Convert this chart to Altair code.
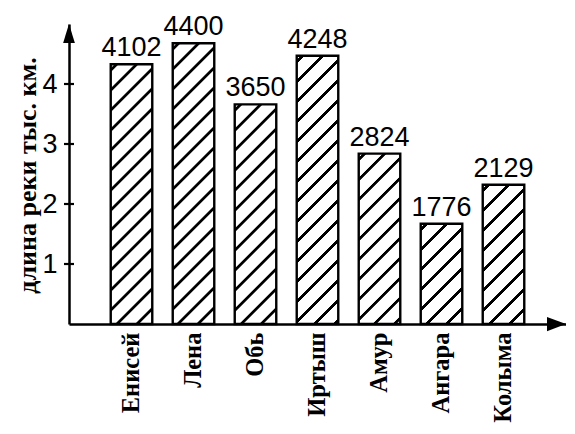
import altair as alt
import pandas as pd

# ---- data ----
rivers = ["Енисей", "Лена", "Обь", "Иртыш", "Амур", "Ангара", "Колыма"]
lengths_km = [4102, 4400, 3650, 4248, 2824, 1776, 2129]          # printed labels
bar_heights = [4.33, 4.68, 3.66, 4.47, 2.84, 1.67, 2.32]          # drawn bar heights (тыс. км)
y_ticks = [1, 2, 3, 4]
y_title = "длина реки тыс. км."

df = pd.DataFrame({"river": rivers, "h": bar_heights, "label": [str(v) for v in lengths_km]})

# ---- layout ----
W, H = 497, 300
Y_MAX = 5
STEP = 62.0
P_INNER = 0.33
P_OUTER = (W / STEP - (len(rivers) - P_INNER)) / 2
BAND = STEP * (1 - P_INNER)
PX_PER_UNIT = H / Y_MAX

xscale = alt.Scale(domain=rivers, paddingInner=P_INNER, paddingOuter=P_OUTER)
yscale = alt.Scale(domain=[0, Y_MAX], nice=False, zero=True)


def hatch(w, h, period=20.0, lw=3.0, soft=0.9, phase=6.0):
    """Diagonal '/' hatching as a bbox linear gradient for a w x h rect."""
    L = w + h
    a, b = w / L, h / L
    n2 = a * a + b * b
    stops = [alt.GradientStop(offset=0, color="white")]
    last = 0.0
    s = phase
    while s - lw / 2 - soft < L:
        for off, col in ((s - lw / 2 - soft, "white"), (s - lw / 2, "black"),
                         (s + lw / 2, "black"), (s + lw / 2 + soft, "white")):
            o = min(max(off / L, last), 1.0)
            last = o
            stops.append(alt.GradientStop(offset=o, color=col))
        s += period
    stops.append(alt.GradientStop(offset=1, color="white"))
    return alt.LinearGradient(gradient="linear", stops=stops,
                              x1=0, y1=0, x2=a / n2, y2=b / n2)


base = alt.Chart(df)

x_axis = alt.Axis(
    title=None, labelAngle=-90, labelAlign="right", labelBaseline="middle",
    labelFont="Liberation Serif", labelFontWeight="bold", labelFontSize=24.5,
    labelColor="black", labelPadding=8, ticks=False, grid=False,
    domain=True, domainColor="black", domainWidth=2.5,
)
y_axis = alt.Axis(
    values=y_ticks, grid=False, ticks=False,
    domain=True, domainColor="black", domainWidth=2.5,
    labelFont="Liberation Sans", labelFontSize=27, labelColor="black", labelPadding=12,
    title=y_title, titleFont="Liberation Serif", titleFontWeight="bold", titleFontSize=26,
    titleColor="black", titleAngle=-90, titleAlign="center", titleBaseline="bottom",
    titleX=-29, titleY=151,
)

X = alt.X("river:N", scale=xscale, sort=rivers, axis=x_axis)
Y = alt.Y("h:Q", scale=yscale, axis=y_axis)

bar_layers = []
for r, v in zip(rivers, bar_heights):
    layer = base.mark_bar(
        fill=hatch(BAND, v * PX_PER_UNIT), stroke="black", strokeWidth=2.4
    ).encode(x=X, y=Y).transform_filter(alt.datum.river == r)
    bar_layers.append(layer)

labels = base.mark_text(
    font="Liberation Sans", fontSize=27, color="black", baseline="alphabetic", dy=-8
).encode(x=X, y=Y, text="label:N")

ticks = alt.Chart(pd.DataFrame({"h": y_ticks})).mark_rule(color="black", strokeWidth=2.2).encode(
    x=alt.value(-5), x2=alt.value(5), y=Y,
)

one = pd.DataFrame({"a": [0]})
arrow_up = alt.Chart(one).mark_point(
    shape="M0,-1L0.62,1L-0.62,1Z", filled=True, size=361, color="black", opacity=1, strokeWidth=0
).encode(x=alt.value(0), y=alt.value(9.5))
arrow_right = alt.Chart(one).mark_point(
    shape="M1,0L-1,-0.75L-1,0.75Z", filled=True, size=361, color="black", opacity=1, strokeWidth=0
).encode(x=alt.value(W - 9.5), y=alt.value(H))

chart = alt.layer(*bar_layers, labels, ticks, arrow_up, arrow_right).properties(
    width=W, height=H,
    autosize=alt.AutoSizeParams(type="none"),
    padding={"left": 61, "top": 16, "right": 0, "bottom": 102},
    background="white",
).configure_view(stroke=None)

chart.save("out.html", embed_options={"renderer": "svg", "actions": False})
